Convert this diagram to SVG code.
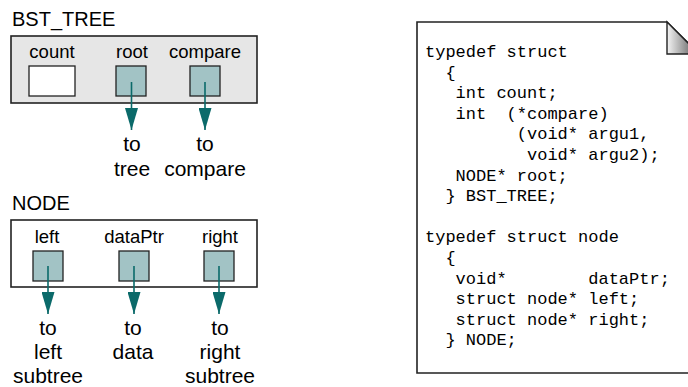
<svg xmlns="http://www.w3.org/2000/svg" width="688" height="387" viewBox="0 0 688 387">
<style>
  .title { font-family: "Liberation Sans", Arial, sans-serif; font-size: 20px; fill: #000; }
  .lbl { font-family: "Liberation Sans", Arial, sans-serif; font-size: 18.5px; fill: #000; text-anchor: middle; }
  .dst { font-family: "Liberation Sans", Arial, sans-serif; font-size: 21px; fill: #000; text-anchor: middle; }
  .ptr { fill: #a2c3c5; stroke: #222; stroke-width: 1.3; }
  .plain { fill: #fff; stroke: #222; stroke-width: 1.3; }
  .frame { stroke: #222; stroke-width: 1.6; }
  .arrow { stroke: #0b6a6a; stroke-width: 1.6; fill: none; marker-end: url(#head); }
  .code { font-family: "Liberation Mono", "Courier New", monospace; font-size: 17px; fill: #000; white-space: pre; }
</style>
<defs>
  <marker id="head" viewBox="0 -6.5 22 13" refX="22" refY="0" markerUnits="userSpaceOnUse" markerWidth="22" markerHeight="13" orient="auto">
    <path d="M0,-6.5 L22,0 L0,6.5 z" fill="#0b6a6a"/>
  </marker>
  <linearGradient id="fold" x1="0" y1="0" x2="1" y2="0">
    <stop offset="0" stop-color="#f4f4f4"/>
    <stop offset="1" stop-color="#4a4a4a"/>
  </linearGradient>
</defs>

<g id="bst_tree">
  <text class="title" x="12" y="26">BST_TREE</text>
  <rect class="frame" x="11" y="36" width="246" height="67" fill="#e6e6e6"/>
  <text class="lbl" x="52" y="58">count</text>
  <rect class="plain" x="29" y="66" width="46" height="30"/>
  <text class="lbl" x="132" y="58">root</text>
  <rect class="ptr" x="116" y="66" width="30" height="30"/>
  <text class="lbl" x="205" y="58">compare</text>
  <rect class="ptr" x="190" y="66" width="30" height="30"/>
</g>

<g id="node">
  <text class="title" x="12" y="210">NODE</text>
  <rect class="frame" x="11" y="220" width="246" height="67" fill="#fff"/>
  <text class="lbl" x="47" y="243">left</text>
  <rect class="ptr" x="33" y="251" width="30" height="30"/>
  <text class="lbl" x="134" y="243">dataPtr</text>
  <rect class="ptr" x="119" y="251" width="30" height="30"/>
  <text class="lbl" x="220" y="243">right</text>
  <rect class="ptr" x="204" y="251" width="30" height="30"/>
</g>

<g id="connectors">
  <line class="arrow" x1="131.5" y1="82" x2="131.5" y2="130"/>
  <line class="arrow" x1="205" y1="82" x2="205" y2="130"/>
  <line class="arrow" x1="48" y1="266" x2="48" y2="314"/>
  <line class="arrow" x1="134" y1="266" x2="134" y2="314"/>
  <line class="arrow" x1="219" y1="266" x2="219" y2="314"/>
</g>

<g id="targets">
  <text class="dst" x="132" y="151">to</text>
  <text class="dst" x="132" y="176">tree</text>
  <text class="dst" x="205" y="151">to</text>
  <text class="dst" x="205" y="176">compare</text>
  <text class="dst" x="48" y="335">to</text>
  <text class="dst" x="48" y="359">left</text>
  <text class="dst" x="48" y="383">subtree</text>
  <text class="dst" x="133" y="335">to</text>
  <text class="dst" x="133" y="359">data</text>
  <text class="dst" x="220" y="335">to</text>
  <text class="dst" x="220" y="359">right</text>
  <text class="dst" x="220" y="383">subtree</text>
</g>

<g id="code_page">
  <path d="M417,22 L667,22 L699,54 L699,373 L417,373 Z" fill="#fff" stroke="#222" stroke-width="1.6"/>
  <path d="M667,22 L699,54 L667,54 Z" fill="url(#fold)" stroke="#222" stroke-width="1.4"/>
  <text class="code" xml:space="preserve" x="425" y="57">typedef struct</text>
  <text class="code" xml:space="preserve" x="425" y="77.6">  {</text>
  <text class="code" xml:space="preserve" x="425" y="98.2">   int count;</text>
  <text class="code" xml:space="preserve" x="425" y="118.8">   int  (*compare)</text>
  <text class="code" xml:space="preserve" x="425" y="139.4">         (void* argu1,</text>
  <text class="code" xml:space="preserve" x="425" y="160">          void* argu2);</text>
  <text class="code" xml:space="preserve" x="425" y="180.6">   NODE* root;</text>
  <text class="code" xml:space="preserve" x="425" y="201.2">  } BST_TREE;</text>
  <text class="code" xml:space="preserve" x="425" y="242.4">typedef struct node</text>
  <text class="code" xml:space="preserve" x="425" y="263">  {</text>
  <text class="code" xml:space="preserve" x="425" y="283.6">   void*        dataPtr;</text>
  <text class="code" xml:space="preserve" x="425" y="304.2">   struct node* left;</text>
  <text class="code" xml:space="preserve" x="425" y="324.8">   struct node* right;</text>
  <text class="code" xml:space="preserve" x="425" y="345.4">  } NODE;</text>
</g>
</svg>
